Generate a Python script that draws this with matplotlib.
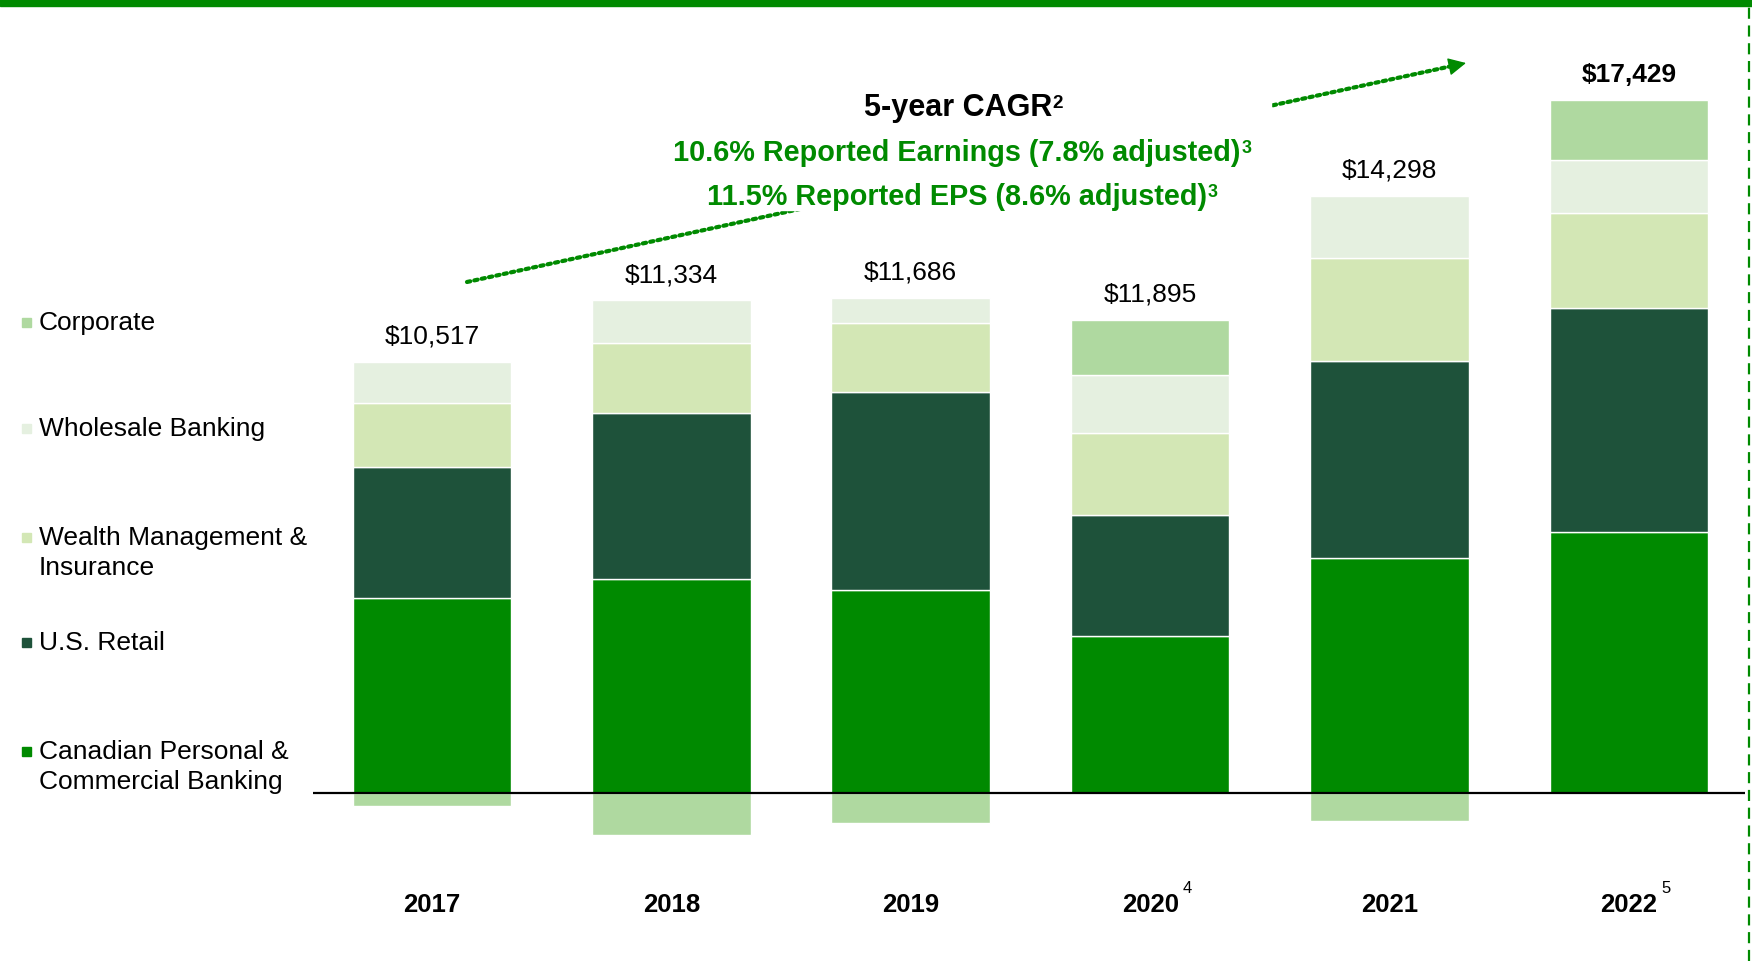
import matplotlib.pyplot as plt
import numpy as np
from matplotlib.patches import Rectangle
from matplotlib.lines import Line2D
from matplotlib.text import Annotation

plt.rcParams['font.family'] = ['Liberation Sans', 'DejaVu Sans']

# Net income by segment, $ millions
years = ['2017', '2018', '2019', '2020', '2021', '2022']
year_notes = ['', '', '', '4', '', '5']
totals = [10517, 11334, 11686, 11895, 14298, 17429]

canadian_pcb = [4900, 5380, 5110, 3950, 5900, 6560]
us_retail = [3310, 4187, 4980, 3050, 4970, 5630]
wealth_ins = [1600, 1760, 1740, 2060, 2585, 2390]
wholesale = [1040, 1060, 620, 1440, 1558, 1330]
corporate = [-333, -1053, -764, 1395, -715, 1519]

segments = ['Canadian Personal &\nCommercial Banking', 'U.S. Retail',
            'Wealth Management &\nInsurance', 'Wholesale Banking', 'Corporate']
colors = ['#008A00', '#1E523A', '#D3E7B5', '#E5F0E0', '#AFD9A0']
green = '#008A00'

W, H = 1752, 962
fig = plt.figure(figsize=(W / 100, H / 100), dpi=100)
ax = fig.add_axes([313 / W, 1 - 873.5 / H, 1432 / W, 835 / H])

x = np.arange(len(years))
bar_w = 0.663
bottom = np.zeros(len(years))
for vals, col in zip([canadian_pcb, us_retail, wealth_ins, wholesale], colors[:4]):
    ax.bar(x, vals, bar_w, bottom=bottom, color=col, edgecolor='white', linewidth=1)
    bottom += np.array(vals)

corp = np.array(corporate)
ax.bar(x, corp, bar_w, bottom=np.where(corp > 0, bottom, 0), color=colors[4],
       edgecolor='white', linewidth=1)
pos_top = bottom + np.clip(corp, 0, None)

ax.axhline(0, color='black', lw=1.6, zorder=5)
ax.set_xlim(-0.497, 5.485)
ax.set_ylim(-2000, 19000)
ax.axis('off')

# totals above bars
for i, t in enumerate(totals):
    ax.annotate(f'${t:,}', (i, pos_top[i]), xytext=(0, 19), textcoords='offset points',
                ha='center', va='center', fontsize=19,
                fontweight='bold' if i == len(totals) - 1 else 'normal')

# year labels with footnote marks
xt = ax.get_xaxis_transform()
for i, (yr, note) in enumerate(zip(years, year_notes)):
    ax.text(i, -0.0377, yr, transform=xt, ha='center', va='center',
            fontsize=18.5, fontweight='bold')
    if note:
        ax.text(i + 0.155, -0.0174, note, transform=xt, ha='center', va='center',
                fontsize=12)

# legend on the left, top to bottom
legend_y = [752, 643, 538, 429, 323]
for lab, col, yy in zip(segments, colors, legend_y):
    fig.patches.append(Rectangle((22 / W, 1 - (yy + 4.5) / H), 9 / W, 9 / H,
                                 transform=fig.transFigure, color=col))
    nlines = lab.count('\n') + 1
    fig.text(39 / W, 1 - (yy + 15 * (nlines - 1)) / H, lab, ha='left', va='center',
             fontsize=19, linespacing=1.34)

# CAGR arrow (dotted shaft, solid head) behind a white text box
x0, y0, x1, y1 = 467, H - 283, 1466, H - 64
ax.annotate('', xy=(x1 - 14, y1 - 3), xytext=(x0, y0), xycoords='figure pixels',
            textcoords='figure pixels', annotation_clip=False,
            arrowprops=dict(arrowstyle='-', color=green, lw=3.0,
                            linestyle=(0, (0.8, 1.0)), shrinkA=0, shrinkB=0))
ax.annotate('', xy=(x1, y1), xytext=(x1 - 16, y1 - 3.5), xycoords='figure pixels',
            textcoords='figure pixels', annotation_clip=False,
            arrowprops=dict(arrowstyle='-|>,head_length=1.1,head_width=0.55',
                            color=green, lw=1, shrinkA=0, shrinkB=0))
fig.patches.append(Rectangle((660 / W, 1 - 211 / H), (1271 - 660) / W, (211 - 70) / H,
                             transform=fig.transFigure, color='white', zorder=2))


def with_sup(xc, yc, main, sup, size, color):
    t = fig.text(xc / W, 1 - yc / H, main, ha='center', va='center', fontsize=size,
                 fontweight='bold', color=color, zorder=3)
    fig.add_artist(Annotation(sup, xy=(1.0, 0.95), xycoords=t, xytext=(0.5, 0),
                              textcoords='offset points', ha='left', va='top',
                              fontsize=size * 0.62, fontweight='bold',
                              color=color, zorder=3))


with_sup(958, 108, '5-year CAGR', '2', 22, 'black')
with_sup(957, 153, '10.6% Reported Earnings (7.8% adjusted)', '3', 20.8, green)
with_sup(957, 197, '11.5% Reported EPS (8.6% adjusted)', '3', 20.8, green)

# slide frame: green band on top, dashed green edge on the right
fig.patches.append(Rectangle((0, 1 - 7 / H), 1, 7 / H, transform=fig.transFigure,
                             color=green, zorder=4))
fig.lines.append(Line2D([1749 / W, 1749 / W], [0, 1 - 7 / H], transform=fig.transFigure,
                        color=green, lw=1.6, dashes=(5, 3)))

fig.savefig('out.png', dpi=100)
